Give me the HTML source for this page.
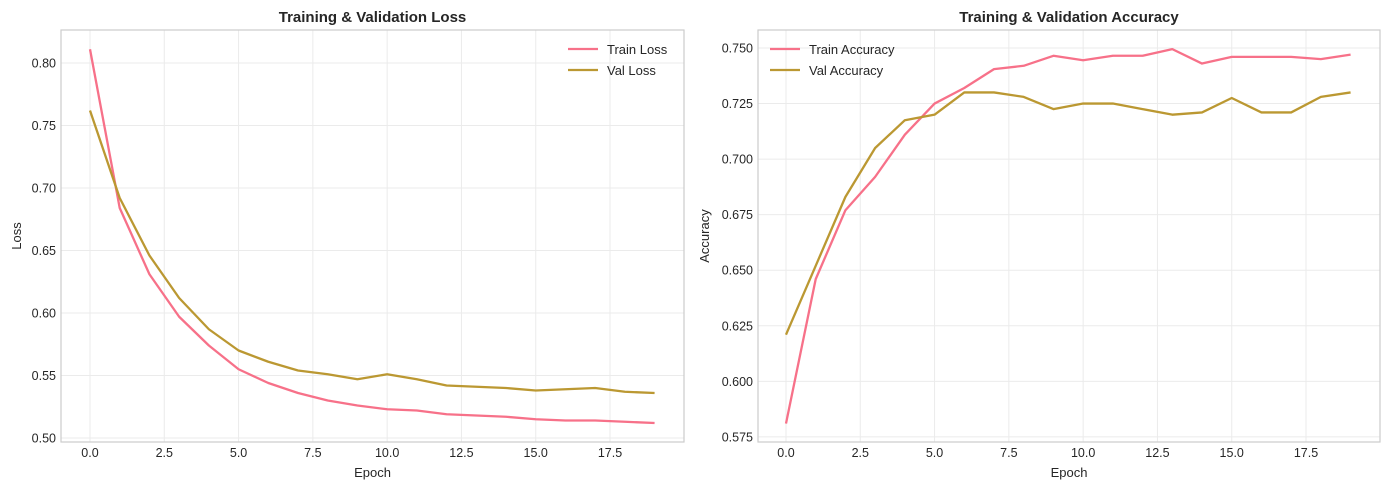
<!DOCTYPE html>
<html><head><meta charset="utf-8"><style>
body{margin:0;background:#fff;font-family:"Liberation Sans",sans-serif;}
svg text{font-family:"Liberation Sans",sans-serif;fill:#262626;}
</style></head><body>
<svg id="svg" width="1389" height="490" xmlns="http://www.w3.org/2000/svg"></svg>
<script>
const epochs = [0,1,2,3,4,5,6,7,8,9,10,11,12,13,14,15,16,17,18,19];
const trainLoss = [0.811,0.684,0.631,0.597,0.574,0.555,0.544,0.536,0.530,0.526,0.523,0.522,0.519,0.518,0.517,0.515,0.514,0.514,0.513,0.512];
const valLoss = [0.762,0.692,0.646,0.612,0.587,0.570,0.561,0.554,0.551,0.547,0.551,0.547,0.542,0.541,0.540,0.538,0.539,0.540,0.537,0.536];
const trainAcc = [0.581,0.646,0.677,0.692,0.711,0.725,0.732,0.7405,0.742,0.7465,0.7445,0.7465,0.7465,0.7495,0.743,0.746,0.746,0.746,0.745,0.747];
const valAcc = [0.621,0.652,0.683,0.705,0.7175,0.720,0.730,0.730,0.728,0.7225,0.725,0.725,0.7225,0.720,0.721,0.7275,0.721,0.721,0.728,0.730];
const xTicks = [0,2.5,5,7.5,10,12.5,15,17.5];
const xTickLabels = ["0.0","2.5","5.0","7.5","10.0","12.5","15.0","17.5"];
const lossTicks = [0.50,0.55,0.60,0.65,0.70,0.75,0.80];
const lossTickLabels = ["0.50","0.55","0.60","0.65","0.70","0.75","0.80"];
const accTicks = [0.575,0.600,0.625,0.650,0.675,0.700,0.725,0.750];
const accTickLabels = ["0.575","0.600","0.625","0.650","0.675","0.700","0.725","0.750"];

const NS="http://www.w3.org/2000/svg";
const svg=document.getElementById('svg');
function mk(tag,attrs,parent){const e=document.createElementNS(NS,tag);for(const k in attrs)e.setAttribute(k,attrs[k]);(parent||svg).appendChild(e);return e;}
const TRAIN="#f77189", VAL="#bb9832";

function chart(cfg){
  const g=mk('g',{});
  
  
  const {L,R,T,B,xmin,xmax,ymin,ymax}=cfg;
  const sx=v=>L+(v-xmin)/(xmax-xmin)*(R-L);
  const sy=v=>B-(v-ymin)/(ymax-ymin)*(B-T);
  xTicks.forEach((t,i)=>{
    mk('line',{x1:sx(t),x2:sx(t),y1:T,y2:B,stroke:'#ebebeb','stroke-width':1},g);
    const tx=mk('text',{x:sx(t),y:B+15,'font-size':12.5,'text-anchor':'middle'},g);
    tx.textContent=xTickLabels[i];
    
    
  });
  cfg.yTicks.forEach((t,i)=>{
    mk('line',{x1:L,x2:R,y1:sy(t),y2:sy(t),stroke:'#ebebeb','stroke-width':1},g);
    const tx=mk('text',{x:L-5,y:sy(t)+4.5,'font-size':12.5,'text-anchor':'end'},g);
    tx.textContent=cfg.yLabels[i];
    
    
  });
  mk('rect',{x:L,y:T,width:R-L,height:B-T,fill:'none',stroke:'#cccccc','stroke-width':1.2},g);
  [[cfg.train,TRAIN,'train-line'],[cfg.val,VAL,'val-line']].forEach(([arr,c,n])=>{
    const p=mk('polyline',{points:arr.map((v,i)=>sx(epochs[i])+','+sy(v)).join(' '),fill:'none',stroke:c,'stroke-width':2.3,'stroke-linejoin':'round'},g);
    
    
  });
  const t=mk('text',{x:(L+R)/2,y:22,'font-size':15,'font-weight':'bold','text-anchor':'middle'},g);
  t.textContent=cfg.title;
  
  
  const xl=mk('text',{x:(L+R)/2,y:477,'font-size':13,'text-anchor':'middle'},g);
  xl.textContent='Epoch';
  
  
  const yx=cfg.ylx, yy=(T+B)/2;
  const yl=mk('text',{x:yx,y:yy,'font-size':13,'text-anchor':'middle',transform:`rotate(-90 ${yx} ${yy})`},g);
  yl.textContent=cfg.ylabel;
  
  
  cfg.legend.forEach((lab,i)=>{
    const lg=mk('g',{},g);
    
    
    const ly=49+i*21;
    mk('line',{x1:cfg.legX,x2:cfg.legX+30,y1:ly,y2:ly,stroke:i?VAL:TRAIN,'stroke-width':2.3},lg);
    const lt=mk('text',{x:cfg.legX+39,y:ly+5,'font-size':13},lg);
    lt.textContent=lab;
  });
}
chart({name:'loss-chart',L:61,R:684,T:30,B:442,xmin:-0.976,xmax:19.99,ymin:0.4968,ymax:0.8264,
  yTicks:lossTicks,yLabels:lossTickLabels,train:trainLoss,val:valLoss,title:'Training & Validation Loss',
  ylabel:'Loss',ylx:21,legend:['Train Loss','Val Loss'],legX:568});
chart({name:'accuracy-chart',L:758,R:1380,T:30,B:442,xmin:-0.942,xmax:19.99,ymin:0.5727,ymax:0.7581,
  yTicks:accTicks,yLabels:accTickLabels,train:trainAcc,val:valAcc,title:'Training & Validation Accuracy',
  ylabel:'Accuracy',ylx:709,legend:['Train Accuracy','Val Accuracy'],legX:770});
</script>
</body></html>
